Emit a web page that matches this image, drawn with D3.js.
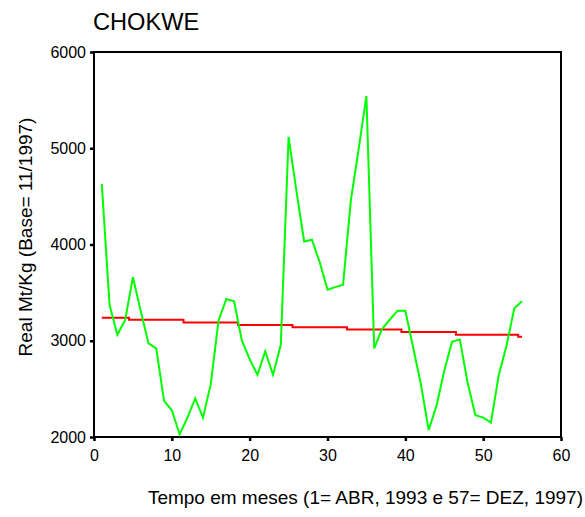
<!DOCTYPE html>
<html>
<head>
<meta charset="utf-8">
<script src="https://cdn.jsdelivr.net/npm/d3@7"></script>
<style>
  html, body { margin: 0; padding: 0; background: #fff; }
  svg { display: block; font-family: "Liberation Sans", Arial, sans-serif; }
</style>
</head>
<body>
<script>
const title = "CHOKWE";
const xLabel = "Tempo em meses (1= ABR, 1993 e 57= DEZ, 1997)";
const yLabel = "Real Mt/Kg (Base= 11/1997)";
const xTicks = [0, 10, 20, 30, 40, 50, 60];
const yTicks = [2000, 3000, 4000, 5000, 6000];
const months = d3.range(1, 56);
const priceSeries = [
  4630, 3372, 3062, 3215, 3660, 3312, 2972, 2920, 2375, 2278,
  2028, 2200, 2400, 2200, 2549, 3208, 3434, 3410, 3000, 2809,
  2646, 2889, 2646, 2958, 5118, 4560, 4031, 4049, 3816, 3531,
  3557, 3583, 4458, 4990, 5542, 2920, 3122, 3218, 3312, 3312,
  2930, 2549, 2073, 2323, 2688, 2990, 3014, 2566, 2226, 2201,
  2149, 2642, 2948, 3337, 3410
];
const trendSeries = [
  3240, 3240, 3240, 3240, 3219, 3219, 3219, 3219, 3219, 3219,
  3219, 3190, 3190, 3190, 3190, 3190, 3190, 3190, 3163, 3163,
  3163, 3163, 3163, 3163, 3163, 3139, 3139, 3139, 3139, 3139,
  3139, 3139, 3118, 3118, 3118, 3118, 3118, 3118, 3118, 3090,
  3090, 3090, 3090, 3090, 3090, 3090, 3062, 3062, 3062, 3062,
  3062, 3062, 3062, 3062, 3042
];

const W = 585, H = 517;
const svg = d3.select("body").append("svg").attr("width", W).attr("height", H);

const x = d3.scaleLinear().domain([0, 60]).range([94, 561]);
const y = d3.scaleLinear().domain([2000, 6000]).range([437, 52]);

// frame
svg.append("rect")
  .attr("x", x(0)).attr("y", y(6000))
  .attr("width", x(60) - x(0)).attr("height", y(2000) - y(6000))
  .attr("fill", "none").attr("stroke", "#000").attr("stroke-width", 2);

// axes
const xAxis = svg.append("g").attr("transform", `translate(0,${y(2000)})`)
  .call(d3.axisBottom(x).tickValues(xTicks).tickSize(4).tickPadding(9).tickFormat(d3.format("d")));
const yAxis = svg.append("g").attr("transform", `translate(${x(0)},0)`)
  .call(d3.axisLeft(y).tickValues(yTicks).tickSize(4).tickPadding(4).tickFormat(d3.format("d")));
[xAxis, yAxis].forEach(g => {
  g.select(".domain").remove();
  g.selectAll(".tick line").attr("stroke", "#000").attr("stroke-width", 2.5);
  g.selectAll(".tick text").attr("fill", "#000").style("font-size", "16px")
    .style("font-family", "'Liberation Sans', Arial, sans-serif");
});

const line = d3.line().x((d, i) => x(months[i])).y(d => y(d));
const stepLine = d3.line().x((d, i) => x(months[i])).y(d => y(d)).curve(d3.curveStep);

svg.append("path").datum(trendSeries)
  .attr("d", stepLine).attr("fill", "none").attr("stroke", "#ff0000").attr("stroke-width", 2);
svg.append("path").datum(priceSeries)
  .attr("d", line).attr("fill", "none").attr("stroke", "#00ff00").attr("stroke-width", 2)
  .attr("stroke-linejoin", "miter");

// title
svg.append("text").attr("x", 93).attr("y", 29.5).text(title)
  .style("font-size", "23.6px").attr("fill", "#000");

// axis labels
svg.append("text").attr("x", 583).attr("y", 504).attr("text-anchor", "end")
  .text(xLabel).style("font-size", "19px").attr("fill", "#000");
svg.append("text").attr("transform", "translate(32,237) rotate(-90)")
  .attr("text-anchor", "middle").text(yLabel)
  .style("font-size", "19px").attr("fill", "#000");
</script>
</body>
</html>
